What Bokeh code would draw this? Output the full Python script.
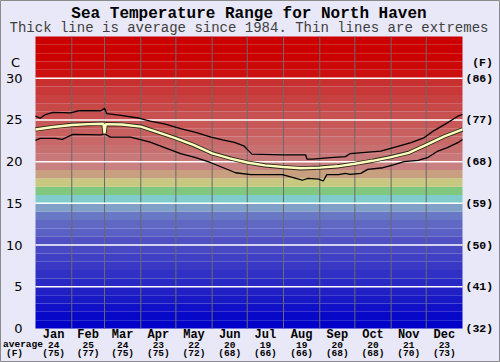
from bokeh.plotting import figure
from bokeh.models import ColumnDataSource, Range1d
from bokeh.core.properties import value
from bokeh.embed import file_html
from bokeh.resources import INLINE

# ---- data ----
avg_days = [0, 15, 31, 45, 58, 59, 60, 74, 90, 105, 120, 135, 151, 166, 181, 196,
            212, 227, 243, 258, 273, 288, 304, 319, 334, 349, 365]
avg_temp = [23.86, 24.15, 24.4, 24.5, 24.55, 23.4, 24.5, 24.45, 24.2, 23.5, 22.8, 22.0,
            21.0, 20.4, 19.9, 19.55, 19.35, 19.2, 19.28, 19.44, 19.75, 20.1, 20.55,
            21.06, 22.0, 23.0, 23.86]

max_days = [0, 4, 8.5, 15, 30, 37, 56, 59, 61, 73, 89, 98, 111, 124, 137, 150, 160,
            170, 178, 185, 212, 231, 232, 237, 252, 265, 269, 295, 306, 321, 332, 340,
            352, 361, 365]
max_temp = [25.45, 25.2, 25.65, 25.9, 25.85, 26.1, 26.1, 26.4, 25.75, 25.55, 25.2, 24.85,
            24.5, 23.95, 23.5, 22.95, 22.6, 22.3, 21.9, 20.9, 20.8, 20.8, 20.3, 20.3,
            20.47, 20.6, 20.97, 21.27, 21.67, 22.27, 22.86, 23.66, 24.65, 25.45, 25.65]

min_days = [0, 4, 17, 23, 32, 56, 59, 64, 81, 89, 98, 111, 124, 137, 150, 160, 171, 184,
            211, 218, 228, 233, 242, 246, 249, 259, 265, 269, 278, 284, 297, 306, 315,
            327, 335, 344, 352, 361, 365]
min_temp = [22.55, 22.8, 22.8, 22.66, 23.26, 23.2, 23.35, 22.94, 22.94, 22.66, 22.35,
            21.66, 20.95, 20.47, 19.87, 19.3, 18.67, 18.45, 18.45, 18.16, 17.77, 18.0,
            17.9, 17.68, 18.45, 18.45, 18.6, 18.48, 18.6, 19.07, 19.27, 19.6, 20.0, 20.15,
            20.47, 21.27, 21.67, 22.27, 22.66]

months = ["Jan", "Feb", "Mar", "Apr", "May", "Jun", "Jul", "Aug", "Sep", "Oct", "Nov", "Dec"]
month_mid = [15.5, 45, 74.5, 105, 135.5, 166, 196.5, 227.5, 258, 288.5, 319, 349.5]
month_start = [31, 59, 90, 120, 151, 181, 212, 243, 273, 304, 334]
avg_c = ["24", "25", "24", "23", "22", "20", "19", "19", "20", "20", "21", "23"]
avg_f = ["(75)", "(77)", "(75)", "(75)", "(72)", "(68)", "(66)", "(66)", "(68)", "(68)", "(70)", "(73)"]
c_ticks = [0, 5, 10, 15, 20, 25, 30]
f_labels = ["(32)", "(41)", "(50)", "(59)", "(68)", "(77)", "(86)"]
title = "Sea Temperature Range for North Haven"
subtitle = "Thick line is average since 1984. Thin lines are extremes"

# ---- style: 1-degree colour bands (0..35) ----
band_colors = [
    "#0000c8", "#0808c8", "#1010c8", "#1818c4", "#2020c4", "#2828c4", "#3030c4",
    "#3838c4", "#4040c4", "#4848c4", "#5050c4", "#5a60c4", "#6068c4", "#6878c4",
    "#80a0c8", "#80cccc", "#80c880", "#c8c880", "#c8a080", "#c88080", "#c87878",
    "#c87070", "#c86868", "#c86060", "#c85858", "#c85050", "#c84848", "#c84040",
    "#c83838", "#c83030", "#cc1010", "#cc0808", "#cc0000", "#cc0000", "#cc0000",
]
bg = "#e8e8f8"

W, H = 500, 362
L, R, T, B = 35, 462, 36, 328          # plot area in pixels
XMAX, YMAX = 365, 35
ppx = (R - L) / XMAX
ppy = (B - T) / YMAX
x_range = Range1d(-L / ppx, XMAX + (W - R) / ppx)
y_range = Range1d(-(H - B) / ppy, YMAX + T / ppy)

def dx(px):   # pixel offset -> days
    return px / ppx

def dy(px):   # pixel offset -> degrees
    return px / ppy

p = figure(width=W, height=H, x_range=x_range, y_range=y_range,
           output_backend="svg", toolbar_location=None,
           x_axis_location=None, y_axis_location=None,
           min_border_left=0, min_border_right=0, min_border_top=0, min_border_bottom=0,
           border_fill_color=bg, background_fill_color=bg)
p.grid.visible = False
p.outline_line_color = "#8a8a8a"
p.outline_line_width = 1

bands = ColumnDataSource(dict(bottom=list(range(YMAX)), top=list(range(1, YMAX + 1)),
                              color=band_colors))
p.quad(left=0, right=XMAX, bottom="bottom", top="top", fill_color="color",
       line_color=None, source=bands)

# grid lines
p.segment(x0=month_start, y0=[0] * len(month_start), x1=month_start,
          y1=[YMAX] * len(month_start), line_color="#6a6a6a", line_width=1)
p.segment(x0=[0] * 6, y0=c_ticks[1:], x1=[XMAX] * 6, y1=c_ticks[1:],
          line_color="white", line_width=1.5)

# lines
p.line(max_days, max_temp, line_color="black", line_width=1.3)
p.line(min_days, min_temp, line_color="black", line_width=1.3)
p.line(avg_days, avg_temp, line_color="#2a2a18", line_width=4.2)
p.line(avg_days, avg_temp, line_color="#ffffc0", line_width=2.4)

mono = value("Liberation Mono")
sans = value("DejaVu Sans")

# left (C) and right (F) tick labels
p.text(x=[-dx(13)] * len(c_ticks), y=c_ticks, text=[str(t) for t in c_ticks],
       text_align="right", text_baseline="middle", text_font=sans,
       text_font_size="13px", text_color="black")
p.text(x=[XMAX + dx(3)] * len(c_ticks), y=c_ticks, text=f_labels,
       text_align="left", text_baseline="middle", text_font=mono,
       text_font_style="bold", text_font_size="11.5px", text_color="black")
p.text(x=[-dx(20)], y=[YMAX - dy(26)], text=["C"], text_align="center",
       text_baseline="middle", text_font=sans, text_font_size="13px", text_color="black")
p.text(x=[XMAX + dx(20)], y=[YMAX - dy(26)], text=["(F)"], text_align="center",
       text_baseline="middle", text_font=mono, text_font_style="bold",
       text_font_size="11.5px", text_color="black")

# titles
p.text(x=[XMAX / 2], y=[YMAX + dy(23)], text=[title], text_align="center",
       text_baseline="middle", text_font=mono, text_font_style="bold",
       text_font_size="16px", text_color="black")
p.text(x=[XMAX / 2], y=[YMAX + dy(9)], text=[subtitle], text_align="center",
       text_baseline="middle", text_font=mono, text_font_size="14px",
       text_color="#404040")

# bottom month rows
n = len(months)
p.text(x=month_mid, y=[-dy(6)] * n, text=months, text_align="center",
       text_baseline="middle", text_font=mono, text_font_style="bold",
       text_font_size="12px", text_color="black")
p.text(x=month_mid, y=[-dy(16)] * n, text=avg_c, text_align="center",
       text_baseline="middle", text_font=mono, text_font_style="bold",
       text_font_size="9.5px", text_color="black")
p.text(x=month_mid, y=[-dy(25)] * n, text=avg_f, text_align="center",
       text_baseline="middle", text_font=mono, text_font_style="bold",
       text_font_size="9.5px", text_color="black")
p.text(x=[-dx(12.5)], y=[-dy(16)], text=["average"], text_align="center",
       text_baseline="middle", text_font=mono, text_font_style="bold",
       text_font_size="9.5px", text_color="black")
p.text(x=[-dx(21)], y=[-dy(25)], text=["(F)"], text_align="center",
       text_baseline="middle", text_font=mono, text_font_style="bold",
       text_font_size="9.5px", text_color="black")

open("out.html", "w").write(file_html(p, INLINE))
